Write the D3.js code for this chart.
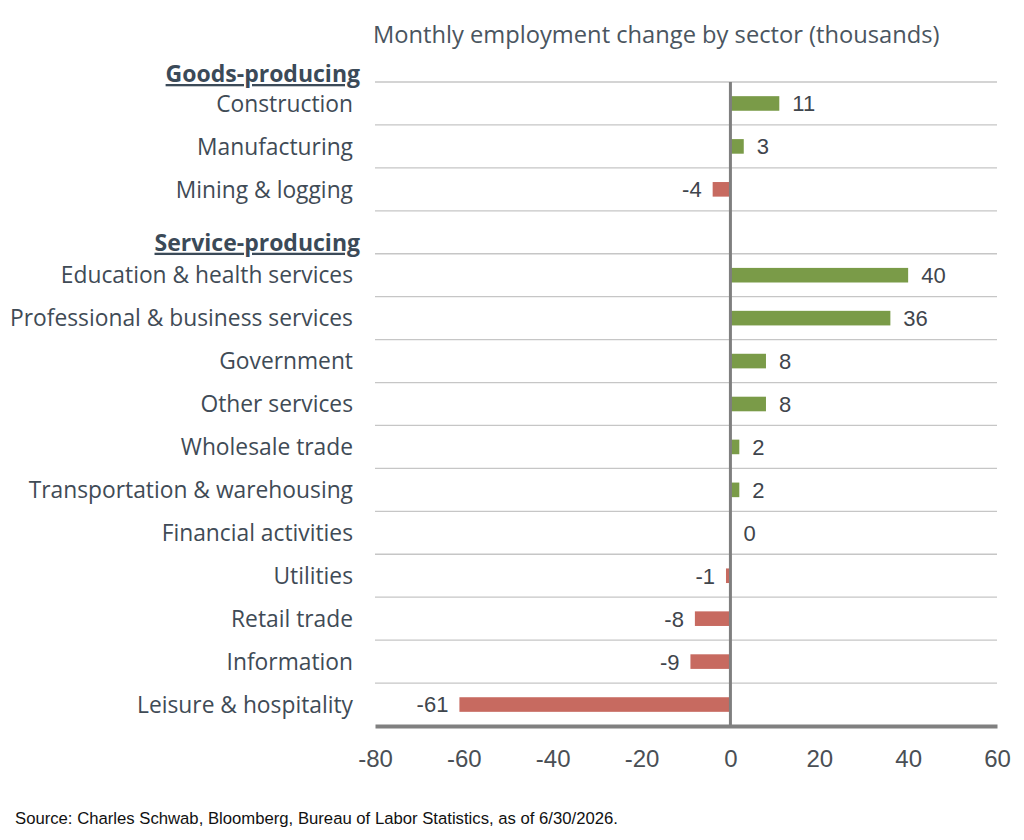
<!DOCTYPE html>
<html>
<head>
<meta charset="utf-8">
<script src="https://cdn.jsdelivr.net/npm/d3@7/dist/d3.min.js"></script>
<style>
  html, body { margin: 0; padding: 0; background: #ffffff; }
  svg { display: block; }
</style>
</head>
<body>
<svg id="chart" width="1024" height="840"></svg>
<script>
// ---- data ----
const title = "Monthly employment change by sector (thousands)";
const source = "Source: Charles Schwab, Bloomberg, Bureau of Labor Statistics, as of 6/30/2026.";
const groupNames = ["Goods-producing", "Service-producing"];
const goodsSectors = ["Construction", "Manufacturing", "Mining & logging"];
const goodsValues = [11, 3, -4];
const serviceSectors = ["Education & health services", "Professional & business services", "Government",
  "Other services", "Wholesale trade", "Transportation & warehousing", "Financial activities",
  "Utilities", "Retail trade", "Information", "Leisure & hospitality"];
const serviceValues = [40, 36, 8, 8, 2, 2, 0, -1, -8, -9, -61];
const xTicks = [-80, -60, -40, -20, 0, 20, 40, 60];

// rows: goods sectors, spacer row holding the service header, service sectors
const rows = [
  ...goodsSectors.map((s, i) => ({ key: s, label: s, value: goodsValues[i] })),
  { key: "__spacer", header: groupNames[1] },
  ...serviceSectors.map((s, i) => ({ key: s, label: s, value: serviceValues[i] }))
];

const svg = d3.select("#chart");
const plotLeft = 375, plotRight = 997, plotTop = 82, plotBottom = 726;

const x = d3.scaleLinear().domain([-80, 60]).range([plotLeft, plotRight]);
const y = d3.scaleBand().domain(rows.map(r => r.key)).range([plotTop, plotBottom])
  .paddingInner(0.66).paddingOuter(0.33);
const step = y.step();
const rowTop = k => y(k) + y.bandwidth() / 2 - step / 2;
const rowMid = k => y(k) + y.bandwidth() / 2;

const green = "#7a9b48", red = "#c76a60";
const labelFont = "'Open Sans', Lato, sans-serif";
const numFont = "'Liberation Sans', Arial, sans-serif";
const textColor = "#3f4b56";

// title
svg.append("text").attr("x", 373).attr("y", 43)
  .attr("font-family", labelFont).attr("font-size", 23.7).attr("fill", "#4a5560")
  .text(title);

// gridlines (row boundaries)
svg.append("g").selectAll("line").data(rows).join("line")
  .attr("x1", plotLeft).attr("x2", plotRight)
  .attr("y1", d => rowTop(d.key)).attr("y2", d => rowTop(d.key))
  .attr("stroke", "#c6c6c6").attr("stroke-width", 1.3);

// bars
const dataRows = rows.filter(r => r.value !== undefined);
svg.append("g").selectAll("rect").data(dataRows).join("rect")
  .attr("x", d => x(Math.min(0, d.value)))
  .attr("width", d => Math.abs(x(d.value) - x(0)))
  .attr("y", d => y(d.key))
  .attr("height", y.bandwidth())
  .attr("fill", d => d.value >= 0 ? green : red);

// zero line
svg.append("line").attr("x1", x(0)).attr("x2", x(0)).attr("y1", plotTop).attr("y2", plotBottom)
  .attr("stroke", "#7f7f7f").attr("stroke-width", 3);

// bottom axis
const axis = svg.append("g").attr("transform", `translate(0,${plotBottom})`)
  .call(d3.axisBottom(x).tickValues(xTicks).tickSize(0).tickPadding(24).tickFormat(d => String(d)));
axis.select(".domain").attr("stroke", "#808080").attr("stroke-width", 4);
axis.selectAll("text").attr("font-family", numFont).attr("font-size", 24).attr("fill", "#4a4f55");

// value labels
svg.append("g").selectAll("text").data(dataRows).join("text")
  .attr("x", d => d.value >= 0 ? x(d.value) + 13 : x(d.value) - 11)
  .attr("y", d => rowMid(d.key))
  .attr("dy", "0.36em")
  .attr("text-anchor", d => d.value >= 0 ? "start" : "end")
  .attr("font-family", numFont).attr("font-size", 22).attr("fill", "#3f454c")
  .text(d => String(d.value));

// category labels
svg.append("g").selectAll("text").data(dataRows).join("text")
  .attr("x", 353).attr("y", d => rowMid(d.key)).attr("dy", "0.36em")
  .attr("text-anchor", "end")
  .attr("font-family", labelFont).attr("font-size", 22.8).attr("fill", textColor)
  .text(d => d.label);

// group headers
const headers = [
  { name: groupNames[0], yb: rowTop(rows[0].key) },
  { name: groupNames[1], yb: rowTop(rows[4].key) - 3 }
];
svg.append("g").selectAll("text").data(headers).join("text")
  .attr("x", 360).attr("y", d => d.yb)
  .attr("text-anchor", "end")
  .attr("font-family", labelFont).attr("font-size", 23).attr("font-weight", "bold")
  .attr("fill", "#3b4a58").attr("text-decoration", "underline")
  .text(d => d.name);

// source
svg.append("text").attr("x", 15).attr("y", 824)
  .attr("font-family", numFont).attr("font-size", 16.7).attr("fill", "#111")
  .text(source);
</script>
</body>
</html>
